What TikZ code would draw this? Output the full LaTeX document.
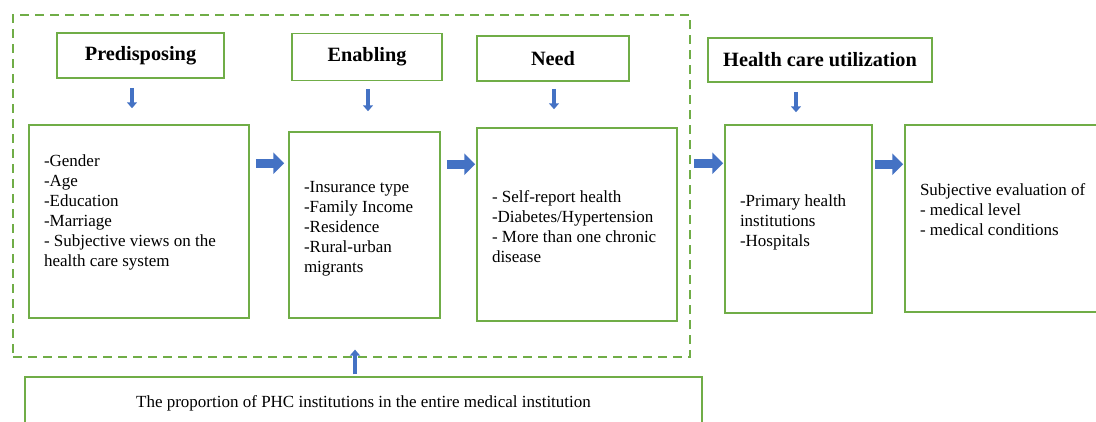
\documentclass[tikz,border=0pt]{standalone}
\usepackage{fontspec}
\setmainfont{Liberation Serif}
\usetikzlibrary{arrows.meta}

\definecolor{boxgreen}{HTML}{70AD47}
\definecolor{arrowblue}{HTML}{4472C4}

% word spaces that do not stretch in the ragged lists
\newcommand{\fixedspaces}{\spaceskip=\fontdimen2\font\relax\xspaceskip=\fontdimen2\font\relax}

\tikzset{
    listbox/.style={draw=boxgreen, line width=1.5pt, inner xsep=15pt, inner ysep=0pt, align=left,
        font=\fontsize{17}{20}\selectfont, execute at begin node=\fixedspaces},
    titlebox/.style={draw=boxgreen, line width=1.5pt, inner sep=0pt, font=\fontsize{20.3}{22}\selectfont\bfseries},
    groupbox/.style={draw=boxgreen, line width=1.2pt, dash pattern=on 9pt off 6pt, inner sep=0pt},
    rarrow/.style={draw=arrowblue, line width=9pt, -{Triangle[width=21pt,length=11pt]}},
    darrow/.style={draw=arrowblue, line width=3.5pt, -{Triangle[width=10pt,length=6pt]}},
}

\begin{document}
\begin{tikzpicture}[x=1pt,y=-1pt]
    \useasboundingbox (0,0) rectangle (1096,421);
    \clip (0,0) rectangle (1096,421);

    % dashed frame round the three groups of factors
    \node[groupbox, minimum width=677, minimum height=342] (grp) at (351.5,186) {};

    % titles
    \node[titlebox, minimum width=167, minimum height=45] (preT) at (140.5,55.5) {Predisposing};
    \node[titlebox, minimum width=150, minimum height=47] (enaT) at (367,57) {Enabling};
    \node[titlebox, minimum width=152, minimum height=45] (needT) at (553,58.5) {Need};
    \node[titlebox, minimum width=224, minimum height=44] (hcuT) at (820,60) {Health care utilization};

    % lists of variables (the kerns move a list up or down in its box)
    \node[listbox, text width=190, minimum height=193] (pre) at (139,221.5)
        {-Gender\\-Age\\-Education\\-Marriage\\- Subjective views on the\\health care system\par\kern19pt};
    \node[listbox, text width=121, minimum height=186] (ena) at (364.5,225)
        {-Insurance type\\-Family Income\\-Residence\\-Rural-urban\\migrants\par\kern-8pt};
    \node[listbox, text width=170, minimum height=193] (need) at (577,224.5)
        {- Self-report health\\-Diabetes/Hypertension\\- More than one chronic\\disease\par\kern-4pt};
    \node[listbox, text width=117, minimum height=188] (hcu) at (798.5,219)
        {-Primary health\\institutions\\-Hospitals\par\kern-6pt};
    \node[listbox, text width=190, minimum height=187] (subj) at (1015,218.5)
        {Subjective evaluation of\\- medical level\\- medical conditions\par\kern17pt};

    \node[listbox, minimum width=677, minimum height=52] (prop) at (363.5,403)
        {The proportion of PHC institutions in the entire medical institution};

    % title -> list
    \draw[darrow] ([shift={(-8.5,9)}]preT.south) -- ([shift={(-8.5,-16)}]preT.south |- pre.north);
    \draw[darrow] ([shift={(1,8)}]enaT.south) -- ([shift={(1,-20)}]enaT.south |- ena.north);
    \draw[darrow] ([shift={(1,7)}]needT.south) -- ([shift={(1,-18)}]needT.south |- need.north);
    \draw[darrow] ([shift={(-24,9)}]hcuT.south) -- ([shift={(-24,-12)}]hcuT.south |- hcu.north);

    % list -> list
    \draw[rarrow] ([shift={(6,39)}]pre.north east) coordinate (a1) -- ([xshift=-4pt]a1 -| ena.west);
    \draw[rarrow] ([shift={(6,33)}]ena.north east) coordinate (a2) -- ([xshift=-1pt]a2 -| need.west);
    \draw[rarrow] ([shift={(16,36)}]need.north east) coordinate (a3) -- ([xshift=-1pt]a3 -| hcu.west);
    \draw[rarrow] ([shift={(2,40)}]hcu.north east) coordinate (a4) -- ([xshift=-1pt]a4 -| subj.west);

    % PHC share acts on the whole frame
    \draw[darrow] ([shift={(-8.5,-2)}]prop.north) -- ([shift={(-8.5,-8)}]prop.north |- grp.south);
\end{tikzpicture}
\end{document}
